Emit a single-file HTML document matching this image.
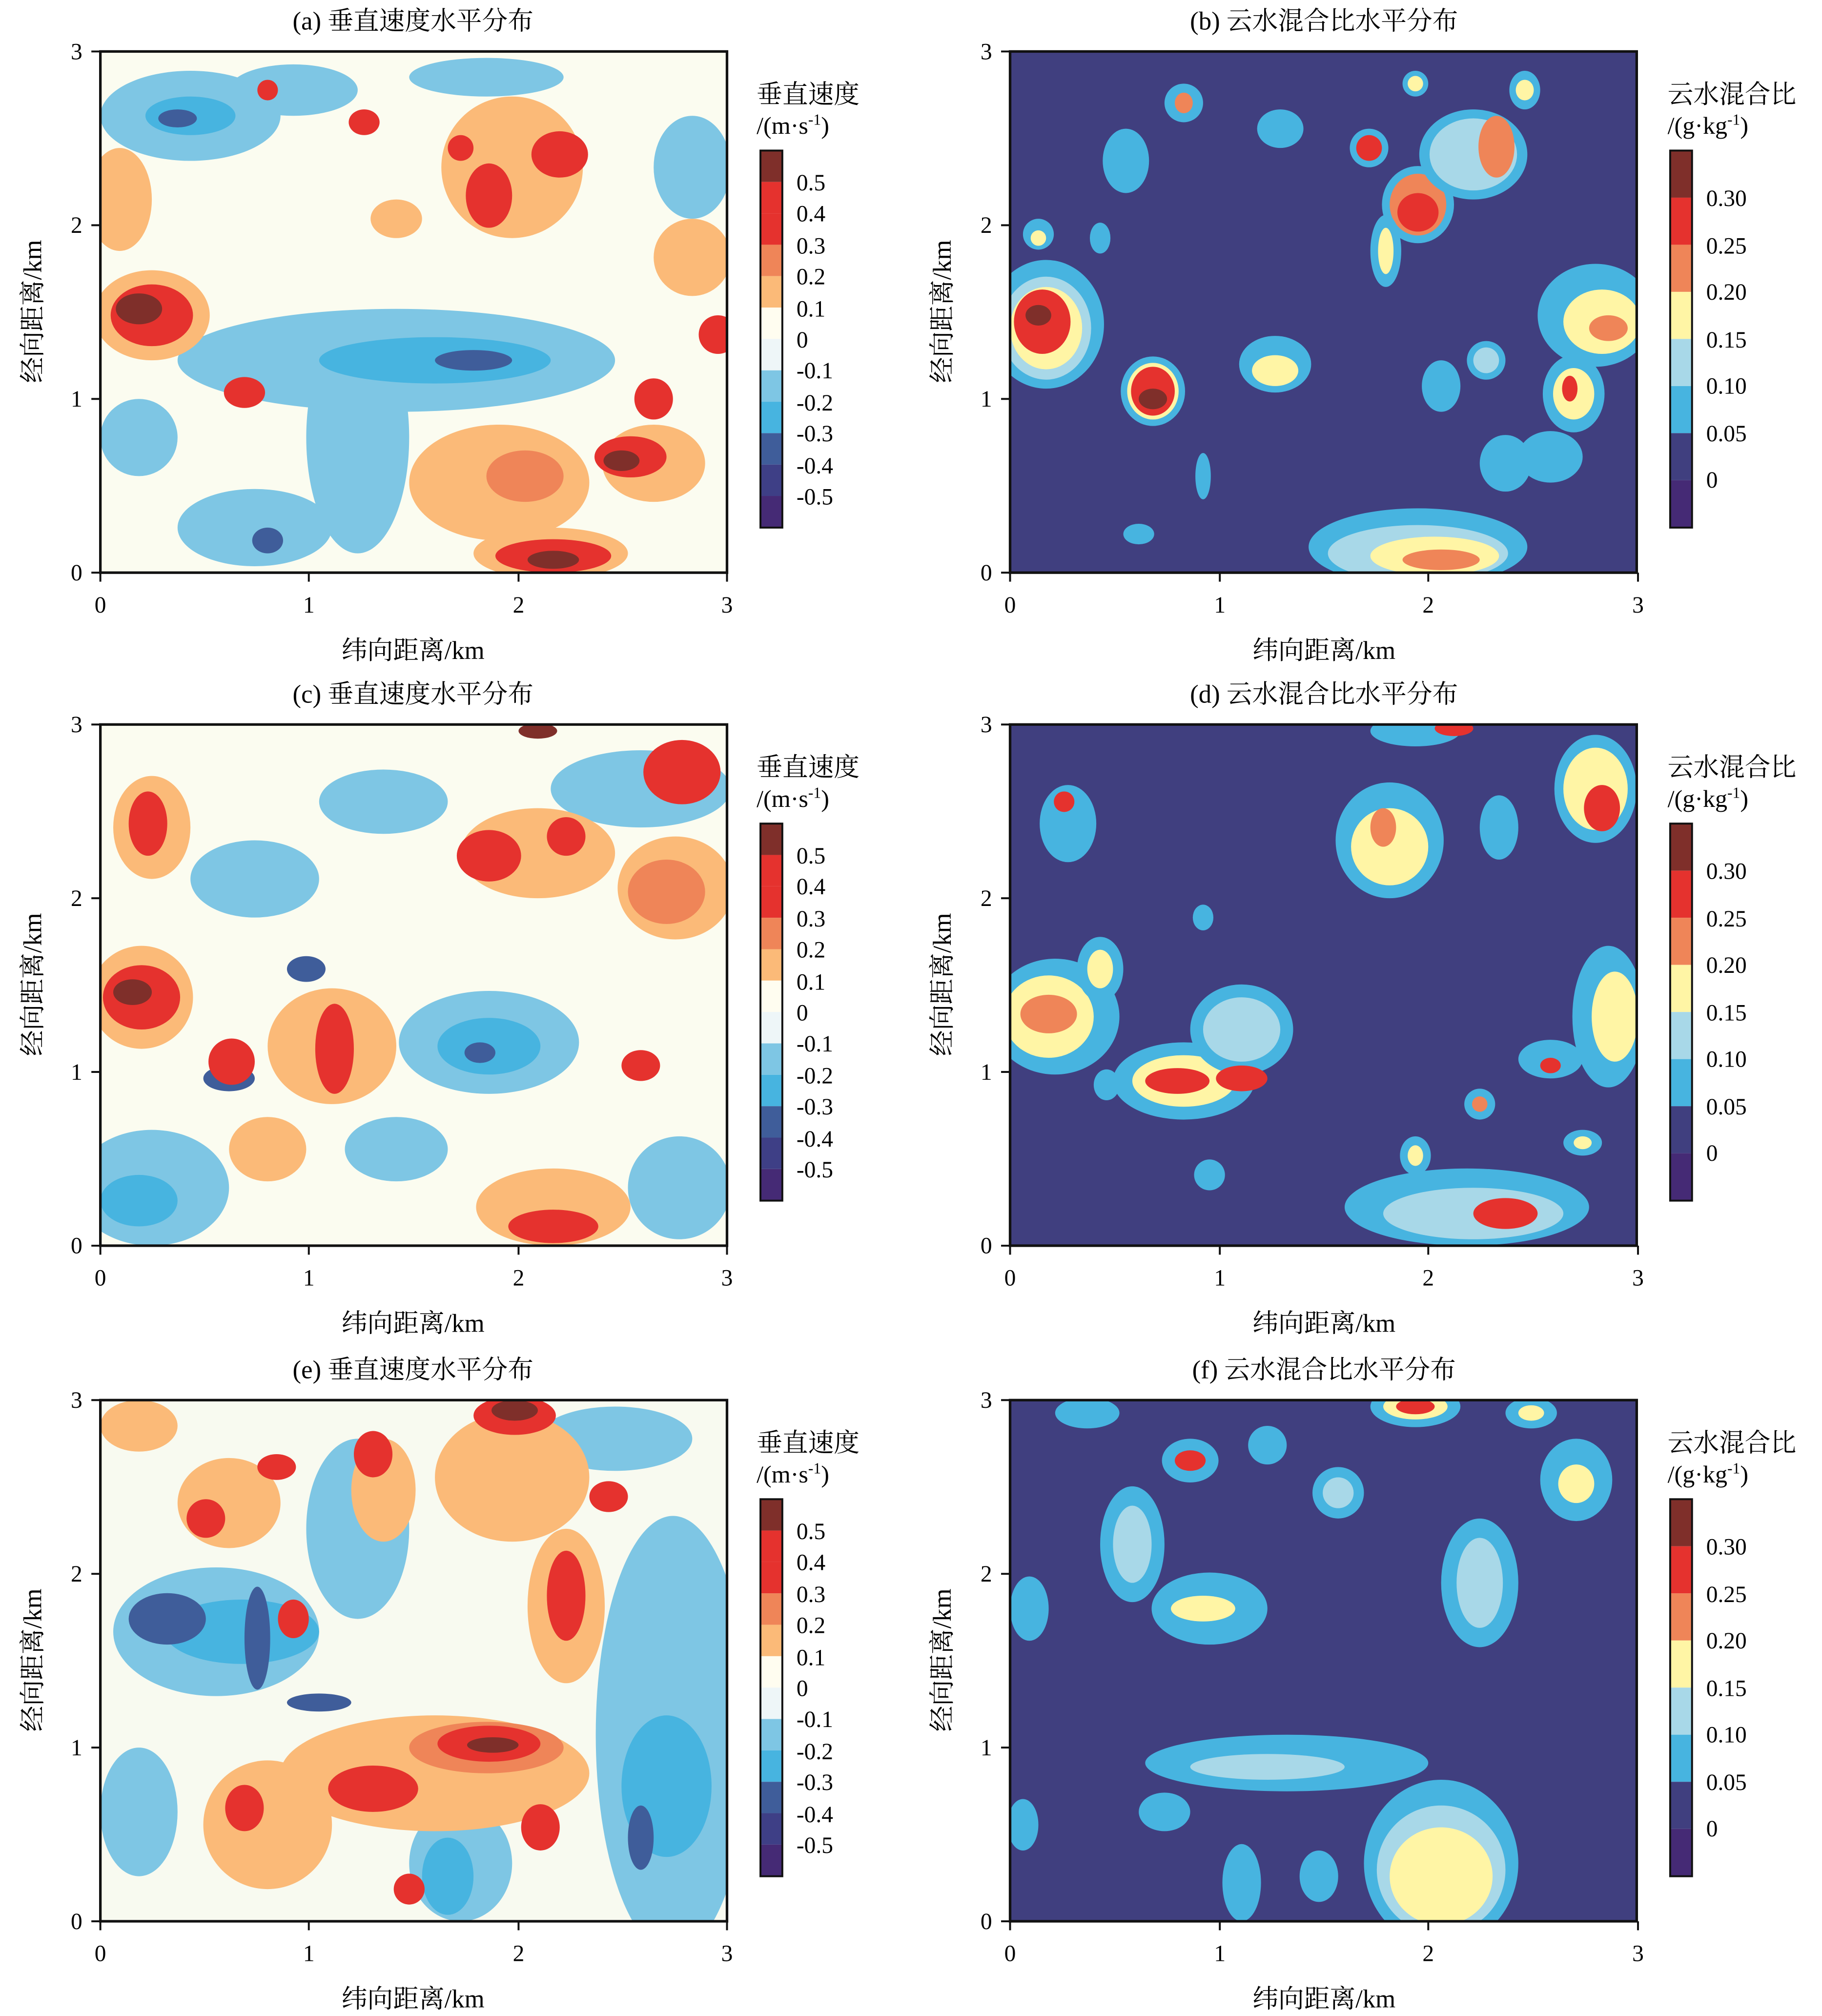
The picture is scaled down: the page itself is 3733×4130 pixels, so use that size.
<!DOCTYPE html>
<html><head><meta charset="utf-8"><style>html,body{margin:0;padding:0;background:#fff}svg{display:block}</style></head>
<body>
<svg xmlns="http://www.w3.org/2000/svg" width="3733" height="4130" viewBox="0 0 1416 1566.6" preserveAspectRatio="none" font-family="'Liberation Serif','Noto Serif CJK SC',serif">
<defs>
<clipPath id="cp"><rect x="0" y="0" width="487" height="405"/></clipPath>
</defs>
<style>
.t{font-size:20px;text-anchor:middle}
.k{font-size:18px}
.c1{fill:#7ec6e4}.c2{fill:#47b4e0}.c3{fill:#3f5d9a}.c4{fill:#3e3f86}
.o1{fill:#fbba78}.o2{fill:#ef8558}.o3{fill:#e5322e}.o4{fill:#7f2f2a}
.y{fill:#fff5a5}.lb{fill:#a8d8e8}
</style>

<!-- ========== PANEL A ========== -->
<g transform="translate(78,40)"><g clip-path="url(#cp)">
<rect width="487" height="405" fill="#f6f9f1"/>
<rect x="0" y="0" width="487" height="405" fill="#fffdf0" opacity="0.6"/>
<ellipse class="c1" cx="230" cy="240" rx="170" ry="40"/>
<ellipse class="c1" cx="200" cy="300" rx="40" ry="90"/>
<ellipse class="c1" cx="70" cy="50" rx="70" ry="35"/>
<ellipse class="c1" cx="150" cy="30" rx="50" ry="20"/>
<ellipse class="c1" cx="300" cy="20" rx="60" ry="15"/>
<ellipse class="c1" cx="120" cy="370" rx="60" ry="30"/>
<ellipse class="c1" cx="460" cy="90" rx="30" ry="40"/>
<ellipse class="c1" cx="30" cy="300" rx="30" ry="30"/>
<ellipse class="c2" cx="260" cy="240" rx="90" ry="18"/>
<ellipse class="c2" cx="70" cy="50" rx="35" ry="15"/>
<ellipse class="c3" cx="60" cy="52" rx="15" ry="7"/>
<ellipse class="c3" cx="290" cy="240" rx="30" ry="8"/>
<ellipse class="c3" cx="130" cy="380" rx="12" ry="10"/>
<ellipse class="o1" cx="310" cy="335" rx="70" ry="45"/>
<ellipse class="o1" cx="15" cy="115" rx="25" ry="40"/>
<ellipse class="o1" cx="460" cy="160" rx="30" ry="30"/>
<ellipse class="o1" cx="230" cy="130" rx="20" ry="15"/>
<ellipse class="o1" cx="350" cy="390" rx="60" ry="20"/>
<ellipse class="o1" cx="40" cy="205" rx="45" ry="35"/>
<ellipse class="o1" cx="320" cy="90" rx="55" ry="55"/>
<ellipse class="o1" cx="430" cy="320" rx="40" ry="30"/>
<ellipse class="o2" cx="330" cy="330" rx="30" ry="20"/>
<ellipse class="o3" cx="40" cy="205" rx="32" ry="24"/>
<ellipse class="o4" cx="30" cy="200" rx="18" ry="12"/>
<ellipse class="o3" cx="112" cy="265" rx="16" ry="12"/>
<ellipse class="o3" cx="430" cy="270" rx="15" ry="16"/>
<ellipse class="o3" cx="412" cy="315" rx="28" ry="16"/>
<ellipse class="o4" cx="405" cy="318" rx="14" ry="8"/>
<ellipse class="o3" cx="352" cy="392" rx="45" ry="13"/>
<ellipse class="o4" cx="352" cy="395" rx="20" ry="7"/>
<ellipse class="o3" cx="357" cy="80" rx="22" ry="18"/>
<ellipse class="o3" cx="302" cy="112" rx="18" ry="25"/>
<ellipse class="o3" cx="280" cy="75" rx="10" ry="10"/>
<ellipse class="o3" cx="205" cy="55" rx="12" ry="10"/>
<ellipse class="o3" cx="130" cy="30" rx="8" ry="8"/>
<ellipse class="o3" cx="480" cy="220" rx="15" ry="15"/>
</g><rect width="487" height="405" fill="none" stroke="#111" stroke-width="2"/></g>

<!-- ========== PANEL C ========== -->
<g transform="translate(78,563)"><g clip-path="url(#cp)">
<rect width="487" height="405" fill="#f6f9f1"/>
<rect x="0" y="0" width="487" height="405" fill="#fffdf0" opacity="0.6"/>
<ellipse class="c1" cx="302" cy="247" rx="70" ry="40"/>
<ellipse class="c1" cx="40" cy="360" rx="60" ry="45"/>
<ellipse class="c1" cx="420" cy="50" rx="70" ry="30"/>
<ellipse class="c1" cx="120" cy="120" rx="50" ry="30"/>
<ellipse class="c1" cx="220" cy="60" rx="50" ry="25"/>
<ellipse class="c1" cx="450" cy="360" rx="40" ry="40"/>
<ellipse class="c1" cx="230" cy="330" rx="40" ry="25"/>
<ellipse class="c2" cx="302" cy="250" rx="40" ry="22"/>
<ellipse class="c2" cx="30" cy="370" rx="30" ry="20"/>
<ellipse class="c3" cx="295" cy="255" rx="12" ry="8"/>
<ellipse class="c3" cx="100" cy="275" rx="20" ry="10"/>
<ellipse class="c3" cx="160" cy="190" rx="15" ry="10"/>
<ellipse class="o1" cx="447" cy="127" rx="45" ry="40"/>
<ellipse class="o1" cx="32" cy="212" rx="40" ry="40"/>
<ellipse class="o1" cx="180" cy="250" rx="50" ry="45"/>
<ellipse class="o1" cx="340" cy="100" rx="60" ry="35"/>
<ellipse class="o1" cx="40" cy="80" rx="30" ry="40"/>
<ellipse class="o1" cx="352" cy="375" rx="60" ry="30"/>
<ellipse class="o1" cx="130" cy="330" rx="30" ry="25"/>
<ellipse class="o2" cx="440" cy="130" rx="30" ry="25"/>
<ellipse class="o3" cx="32" cy="212" rx="30" ry="25"/>
<ellipse class="o4" cx="25" cy="208" rx="15" ry="10"/>
<ellipse class="o3" cx="452" cy="37" rx="30" ry="25"/>
<ellipse class="o3" cx="302" cy="102" rx="25" ry="20"/>
<ellipse class="o3" cx="362" cy="87" rx="15" ry="15"/>
<ellipse class="o3" cx="37" cy="77" rx="15" ry="25"/>
<ellipse class="o3" cx="182" cy="252" rx="15" ry="35"/>
<ellipse class="o3" cx="102" cy="262" rx="18" ry="18"/>
<ellipse class="o3" cx="352" cy="390" rx="35" ry="13"/>
<ellipse class="o4" cx="340" cy="5" rx="15" ry="6"/>
<ellipse class="o3" cx="420" cy="265" rx="15" ry="12"/>
</g><rect width="487" height="405" fill="none" stroke="#111" stroke-width="2"/></g>

<!-- ========== PANEL E ========== -->
<g transform="translate(78,1088)"><g clip-path="url(#cp)">
<rect width="487" height="405" fill="#f8faf0"/>
<ellipse class="c1" cx="445" cy="260" rx="60" ry="170"/>
<ellipse class="c1" cx="90" cy="180" rx="80" ry="50"/>
<ellipse class="c1" cx="200" cy="100" rx="40" ry="70"/>
<ellipse class="c1" cx="30" cy="320" rx="30" ry="50"/>
<ellipse class="c1" cx="280" cy="360" rx="40" ry="45"/>
<ellipse class="c1" cx="400" cy="30" rx="60" ry="25"/>
<ellipse class="c2" cx="110" cy="180" rx="60" ry="25"/>
<ellipse class="c2" cx="440" cy="300" rx="35" ry="55"/>
<ellipse class="c2" cx="270" cy="370" rx="20" ry="30"/>
<ellipse class="c3" cx="52" cy="170" rx="30" ry="20"/>
<ellipse class="c3" cx="122" cy="185" rx="10" ry="40"/>
<ellipse class="c3" cx="170" cy="235" rx="25" ry="7"/>
<ellipse class="c3" cx="420" cy="340" rx="10" ry="25"/>
<ellipse class="o1" cx="260" cy="290" rx="120" ry="45"/>
<ellipse class="o1" cx="320" cy="60" rx="60" ry="50"/>
<ellipse class="o1" cx="130" cy="330" rx="50" ry="50"/>
<ellipse class="o1" cx="100" cy="80" rx="40" ry="35"/>
<ellipse class="o1" cx="220" cy="70" rx="25" ry="40"/>
<ellipse class="o1" cx="362" cy="160" rx="30" ry="60"/>
<ellipse class="o1" cx="30" cy="20" rx="30" ry="20"/>
<ellipse class="o2" cx="300" cy="270" rx="60" ry="20"/>
<ellipse class="o3" cx="322" cy="12" rx="32" ry="15"/>
<ellipse class="o4" cx="322" cy="8" rx="18" ry="8"/>
<ellipse class="o3" cx="362" cy="152" rx="15" ry="35"/>
<ellipse class="o3" cx="302" cy="267" rx="40" ry="14"/>
<ellipse class="o4" cx="305" cy="268" rx="20" ry="6"/>
<ellipse class="o3" cx="212" cy="302" rx="35" ry="18"/>
<ellipse class="o3" cx="82" cy="92" rx="15" ry="15"/>
<ellipse class="o3" cx="137" cy="52" rx="15" ry="10"/>
<ellipse class="o3" cx="212" cy="42" rx="15" ry="18"/>
<ellipse class="o3" cx="342" cy="332" rx="15" ry="18"/>
<ellipse class="o3" cx="112" cy="317" rx="15" ry="18"/>
<ellipse class="o3" cx="150" cy="170" rx="12" ry="15"/>
<ellipse class="o3" cx="240" cy="380" rx="12" ry="12"/>
<ellipse class="o3" cx="395" cy="75" rx="15" ry="12"/>
</g><rect width="487" height="405" fill="none" stroke="#111" stroke-width="2"/></g>

<!-- ========== PANEL B ========== -->
<g transform="translate(785,40)"><g clip-path="url(#cp)">
<rect width="487" height="405" fill="#403f7f"/>
<g>
<ellipse class="c2" cx="28" cy="212" rx="45" ry="50"/><ellipse class="lb" cx="28" cy="215" rx="35" ry="40"/><ellipse class="y" cx="28" cy="215" rx="28" ry="32"/><ellipse class="o3" cx="25" cy="210" rx="22" ry="25"/><ellipse class="o4" cx="22" cy="205" rx="10" ry="8"/>
<ellipse class="c2" cx="111" cy="264" rx="25" ry="27"/><ellipse class="y" cx="111" cy="264" rx="20" ry="22"/><ellipse class="o3" cx="111" cy="264" rx="17" ry="19"/><ellipse class="o4" cx="111" cy="270" rx="11" ry="8"/>
<ellipse class="c2" cx="317" cy="119" rx="28" ry="30"/><ellipse class="o2" cx="317" cy="119" rx="22" ry="24"/><ellipse class="o3" cx="317" cy="125" rx="16" ry="15"/>
<ellipse class="c2" cx="279" cy="75" rx="15" ry="15"/><ellipse class="o3" cx="279" cy="75" rx="10" ry="10"/>
<ellipse class="c2" cx="360" cy="80" rx="42" ry="35"/><ellipse class="lb" cx="360" cy="80" rx="34" ry="28"/><ellipse class="o2" cx="378" cy="74" rx="14" ry="24"/>
<ellipse class="c2" cx="292" cy="155" rx="12" ry="28"/><ellipse class="y" cx="292" cy="155" rx="6" ry="18"/>
<ellipse class="c2" cx="455" cy="205" rx="45" ry="40"/><ellipse class="y" cx="460" cy="210" rx="30" ry="25"/><ellipse class="o2" cx="465" cy="215" rx="15" ry="10"/>
<ellipse class="c2" cx="438" cy="266" rx="24" ry="30"/><ellipse class="y" cx="438" cy="266" rx="16" ry="20"/><ellipse class="o3" cx="435" cy="262" rx="6" ry="10"/>
<ellipse class="c2" cx="206" cy="243" rx="28" ry="22"/><ellipse class="y" cx="206" cy="248" rx="18" ry="12"/>
<ellipse class="c2" cx="317" cy="385" rx="85" ry="30"/><ellipse class="lb" cx="317" cy="390" rx="70" ry="22"/><ellipse class="y" cx="330" cy="392" rx="50" ry="15"/><ellipse class="o2" cx="335" cy="395" rx="30" ry="8"/>
<ellipse class="c2" cx="90" cy="85" rx="18" ry="25"/><ellipse class="c2" cx="210" cy="60" rx="18" ry="15"/><ellipse class="c2" cx="400" cy="30" rx="12" ry="15"/><ellipse class="y" cx="400" cy="30" rx="7" ry="8"/>
<ellipse class="c2" cx="315" cy="25" rx="10" ry="10"/><ellipse class="y" cx="315" cy="25" rx="6" ry="6"/>
<ellipse class="c2" cx="135" cy="40" rx="15" ry="15"/><ellipse class="o2" cx="135" cy="40" rx="7" ry="8"/>
<ellipse class="c2" cx="370" cy="240" rx="15" ry="15"/><ellipse class="lb" cx="370" cy="240" rx="10" ry="10"/>
<ellipse class="c2" cx="335" cy="260" rx="15" ry="20"/>
<ellipse class="c2" cx="385" cy="320" rx="20" ry="22"/><ellipse class="c2" cx="420" cy="315" rx="25" ry="20"/>
<ellipse class="c2" cx="22" cy="142" rx="12" ry="12"/><ellipse class="y" cx="22" cy="145" rx="6" ry="6"/>
<ellipse class="c2" cx="70" cy="145" rx="8" ry="12"/>
<ellipse class="c2" cx="150" cy="330" rx="6" ry="18"/><ellipse class="c2" cx="100" cy="375" rx="12" ry="8"/>
</g>
</g><rect width="487" height="405" fill="none" stroke="#111" stroke-width="2"/></g>

<!-- ========== PANEL D ========== -->
<g transform="translate(785,563)"><g clip-path="url(#cp)">
<rect width="487" height="405" fill="#403f7f"/>
<ellipse class="c2" cx="35" cy="227" rx="50" ry="45"/><ellipse class="y" cx="30" cy="227" rx="35" ry="32"/><ellipse class="o2" cx="30" cy="225" rx="22" ry="15"/>
<ellipse class="c2" cx="70" cy="190" rx="18" ry="25"/><ellipse class="y" cx="70" cy="190" rx="10" ry="15"/>
<ellipse class="c2" cx="135" cy="277" rx="55" ry="30"/><ellipse class="y" cx="135" cy="277" rx="40" ry="20"/><ellipse class="o3" cx="130" cy="277" rx="25" ry="10"/>
<ellipse class="c2" cx="180" cy="237" rx="40" ry="35"/><ellipse class="lb" cx="180" cy="237" rx="30" ry="25"/><ellipse class="o3" cx="180" cy="275" rx="20" ry="10"/>
<ellipse class="c2" cx="455" cy="50" rx="32" ry="42"/><ellipse class="y" cx="455" cy="50" rx="25" ry="32"/><ellipse class="o3" cx="460" cy="65" rx="14" ry="18"/>
<ellipse class="c2" cx="295" cy="90" rx="42" ry="45"/><ellipse class="y" cx="295" cy="95" rx="30" ry="30"/><ellipse class="o2" cx="290" cy="80" rx="10" ry="15"/>
<ellipse class="c2" cx="465" cy="227" rx="28" ry="55"/><ellipse class="y" cx="470" cy="227" rx="18" ry="35"/>
<ellipse class="c2" cx="355" cy="375" rx="95" ry="30"/><ellipse class="lb" cx="360" cy="380" rx="70" ry="20"/><ellipse class="o3" cx="385" cy="380" rx="25" ry="12"/>
<ellipse class="c2" cx="45" cy="77" rx="22" ry="30"/><ellipse class="o3" cx="42" cy="60" rx="8" ry="8"/>
<ellipse class="c2" cx="315" cy="5" rx="35" ry="12"/><ellipse class="o3" cx="345" cy="3" rx="15" ry="6"/>
<ellipse class="c2" cx="380" cy="80" rx="15" ry="25"/><ellipse class="c2" cx="420" cy="260" rx="25" ry="15"/><ellipse class="o3" cx="420" cy="265" rx="8" ry="6"/>
<ellipse class="c2" cx="365" cy="295" rx="12" ry="12"/><ellipse class="o2" cx="365" cy="295" rx="6" ry="6"/>
<ellipse class="c2" cx="315" cy="335" rx="12" ry="15"/><ellipse class="y" cx="315" cy="335" rx="6" ry="8"/>
<ellipse class="c2" cx="445" cy="325" rx="15" ry="10"/><ellipse class="y" cx="445" cy="325" rx="7" ry="5"/>
<ellipse class="c2" cx="150" cy="150" rx="8" ry="10"/><ellipse class="c2" cx="75" cy="280" rx="10" ry="12"/><ellipse class="c2" cx="155" cy="350" rx="12" ry="12"/>
</g><rect width="487" height="405" fill="none" stroke="#111" stroke-width="2"/></g>

<!-- ========== PANEL F ========== -->
<g transform="translate(785,1088)"><g clip-path="url(#cp)">
<rect width="487" height="405" fill="#403f7f"/>
<ellipse class="c2" cx="335" cy="360" rx="60" ry="65"/><ellipse class="lb" cx="335" cy="365" rx="50" ry="50"/><ellipse class="y" cx="335" cy="370" rx="40" ry="38"/>
<ellipse class="c2" cx="215" cy="282" rx="110" ry="22"/><ellipse class="lb" cx="200" cy="285" rx="60" ry="10"/>
<ellipse class="c2" cx="155" cy="162" rx="45" ry="28"/><ellipse class="y" cx="150" cy="162" rx="25" ry="10"/>
<ellipse class="c2" cx="95" cy="112" rx="25" ry="45"/><ellipse class="lb" cx="95" cy="112" rx="15" ry="30"/>
<ellipse class="c2" cx="365" cy="142" rx="30" ry="50"/><ellipse class="lb" cx="365" cy="142" rx="18" ry="35"/>
<ellipse class="c2" cx="440" cy="62" rx="28" ry="32"/><ellipse class="y" cx="440" cy="65" rx="14" ry="15"/>
<ellipse class="c2" cx="140" cy="47" rx="22" ry="17"/><ellipse class="o3" cx="140" cy="47" rx="12" ry="8"/>
<ellipse class="c2" cx="315" cy="5" rx="35" ry="16"/><ellipse class="y" cx="315" cy="5" rx="25" ry="10"/><ellipse class="o3" cx="315" cy="5" rx="15" ry="6"/>
<ellipse class="c2" cx="255" cy="72" rx="20" ry="20"/><ellipse class="lb" cx="255" cy="72" rx="12" ry="12"/>
<ellipse class="c2" cx="15" cy="162" rx="15" ry="25"/><ellipse class="c2" cx="200" cy="35" rx="15" ry="15"/>
<ellipse class="c2" cx="405" cy="10" rx="20" ry="12"/><ellipse class="y" cx="405" cy="10" rx="10" ry="6"/>
<ellipse class="c2" cx="120" cy="320" rx="20" ry="15"/><ellipse class="c2" cx="180" cy="375" rx="15" ry="30"/>
<ellipse class="c2" cx="240" cy="370" rx="15" ry="20"/><ellipse class="c2" cx="10" cy="330" rx="12" ry="20"/>
<ellipse class="c2" cx="60" cy="10" rx="25" ry="12"/>
</g><rect width="487" height="405" fill="none" stroke="#111" stroke-width="2"/></g>

<!-- ========== TEXT ========== -->
<g class="k" font-size="18">
<text x="321" y="23" class="t">(a) 垂直速度水平分布</text>
<text x="1029" y="23" class="t">(b) 云水混合比水平分布</text>
<text x="321" y="546" class="t">(c) 垂直速度水平分布</text>
<text x="1029" y="546" class="t">(d) 云水混合比水平分布</text>
<text x="321" y="1071" class="t">(e) 垂直速度水平分布</text>
<text x="1029" y="1071" class="t">(f) 云水混合比水平分布</text>
<text x="321" y="512" class="t">纬向距离/km</text>
<text x="1029" y="512" class="t">纬向距离/km</text>
<text x="321" y="1035" class="t">纬向距离/km</text>
<text x="1029" y="1035" class="t">纬向距离/km</text>
<text x="321" y="1560" class="t">纬向距离/km</text>
<text x="1029" y="1560" class="t">纬向距离/km</text>
<text class="t" transform="translate(32,242) rotate(-90)">经向距离/km</text>
<text class="t" transform="translate(739,242) rotate(-90)">经向距离/km</text>
<text class="t" transform="translate(32,765) rotate(-90)">经向距离/km</text>
<text class="t" transform="translate(739,765) rotate(-90)">经向距离/km</text>
<text class="t" transform="translate(32,1290) rotate(-90)">经向距离/km</text>
<text class="t" transform="translate(739,1290) rotate(-90)">经向距离/km</text>
</g>

<g font-size="18" text-anchor="middle" stroke="none">
<g>
<text x="78" y="476">0</text><text x="240" y="476">1</text><text x="403" y="476">2</text><text x="565" y="476">3</text>
<text x="785" y="476">0</text><text x="948" y="476">1</text><text x="1110" y="476">2</text><text x="1273" y="476">3</text>
<text x="78" y="999">0</text><text x="240" y="999">1</text><text x="403" y="999">2</text><text x="565" y="999">3</text>
<text x="785" y="999">0</text><text x="948" y="999">1</text><text x="1110" y="999">2</text><text x="1273" y="999">3</text>
<text x="78" y="1524">0</text><text x="240" y="1524">1</text><text x="403" y="1524">2</text><text x="565" y="1524">3</text>
<text x="785" y="1524">0</text><text x="948" y="1524">1</text><text x="1110" y="1524">2</text><text x="1273" y="1524">3</text>
</g>
<g text-anchor="end">
<text x="64" y="46">3</text><text x="64" y="181">2</text><text x="64" y="316">1</text><text x="64" y="451">0</text>
<text x="771" y="46">3</text><text x="771" y="181">2</text><text x="771" y="316">1</text><text x="771" y="451">0</text>
<text x="64" y="569">3</text><text x="64" y="704">2</text><text x="64" y="839">1</text><text x="64" y="974">0</text>
<text x="771" y="569">3</text><text x="771" y="704">2</text><text x="771" y="839">1</text><text x="771" y="974">0</text>
<text x="64" y="1094">3</text><text x="64" y="1229">2</text><text x="64" y="1364">1</text><text x="64" y="1499">0</text>
<text x="771" y="1094">3</text><text x="771" y="1229">2</text><text x="771" y="1364">1</text><text x="771" y="1499">0</text>
</g>
</g>
<g stroke="#111" stroke-width="1.5">
<path d="M78,445v7M240,445v7M403,445v7M565,445v7M785,445v7M948,445v7M1110,445v7M1273,445v7M71,40h7M71,175h7M71,310h7M71,445h7M778,40h7M778,175h7M778,310h7M778,445h7"/>
<path transform="translate(0,523)" d="M78,445v7M240,445v7M403,445v7M565,445v7M785,445v7M948,445v7M1110,445v7M1273,445v7M71,40h7M71,175h7M71,310h7M71,445h7M778,40h7M778,175h7M778,310h7M778,445h7"/>
<path transform="translate(0,1048)" d="M78,445v7M240,445v7M403,445v7M565,445v7M785,445v7M948,445v7M1110,445v7M1273,445v7M71,40h7M71,175h7M71,310h7M71,445h7M778,40h7M778,175h7M778,310h7M778,445h7"/>
</g>

<g id="vcb">
<text x="588" y="80" font-size="20">垂直速度</text>
<text x="588" y="104" font-size="19">/(m·s<tspan dy="-7" font-size="12">-1</tspan><tspan dy="7">)</tspan></text>
<g transform="translate(591,117)">
<rect y="0" width="17" height="24.4" fill="#7f2f2a"/><rect y="24.4" width="17" height="24.4" fill="#e5322e"/><rect y="48.8" width="17" height="24.4" fill="#e5322e"/><rect y="73.2" width="17" height="24.4" fill="#ef8558"/><rect y="97.6" width="17" height="24.4" fill="#fbba78"/><rect y="122" width="17" height="24.4" fill="#fffdf0"/><rect y="146.4" width="17" height="24.4" fill="#eef6f8"/><rect y="170.8" width="17" height="24.4" fill="#7ec6e4"/><rect y="195.2" width="17" height="24.4" fill="#47b4e0"/><rect y="219.6" width="17" height="24.4" fill="#3f5d9a"/><rect y="244" width="17" height="24.4" fill="#3e3f86"/><rect y="268.4" width="17" height="24.6" fill="#452a75"/>
<rect width="17" height="293" fill="none" stroke="#111" stroke-width="1.5"/>
<g font-size="18"><text x="28" y="31">0.5</text><text x="28" y="55">0.4</text><text x="28" y="80">0.3</text><text x="28" y="104">0.2</text><text x="28" y="129">0.1</text><text x="28" y="153">0</text><text x="28" y="177">-0.1</text><text x="28" y="202">-0.2</text><text x="28" y="226">-0.3</text><text x="28" y="251">-0.4</text><text x="28" y="275">-0.5</text></g>
</g>
</g>
<use href="#vcb" transform="translate(0,523)"/>
<use href="#vcb" transform="translate(0,1048)"/>

<g id="ccb">
<text x="1296" y="80" font-size="20">云水混合比</text>
<text x="1296" y="104" font-size="19">/(g·kg<tspan dy="-7" font-size="12">-1</tspan><tspan dy="7">)</tspan></text>
<g transform="translate(1298,117)">
<rect y="0" width="17" height="36.6" fill="#7f2f2a"/><rect y="36.6" width="17" height="36.6" fill="#e5322e"/><rect y="73.2" width="17" height="36.6" fill="#ef8558"/><rect y="109.8" width="17" height="36.6" fill="#fff5a5"/><rect y="146.4" width="17" height="36.6" fill="#a8d8e8"/><rect y="183" width="17" height="36.6" fill="#47b4e0"/><rect y="219.6" width="17" height="36.6" fill="#403f7f"/><rect y="256.2" width="17" height="36.8" fill="#452a75"/>
<rect width="17" height="293" fill="none" stroke="#111" stroke-width="1.5"/>
<g font-size="18"><text x="28" y="43">0.30</text><text x="28" y="80">0.25</text><text x="28" y="116">0.20</text><text x="28" y="153">0.15</text><text x="28" y="189">0.10</text><text x="28" y="226">0.05</text><text x="28" y="262">0</text></g>
</g>
</g>
<use href="#ccb" transform="translate(0,523)"/>
<use href="#ccb" transform="translate(0,1048)"/>
</svg>
</body></html>
